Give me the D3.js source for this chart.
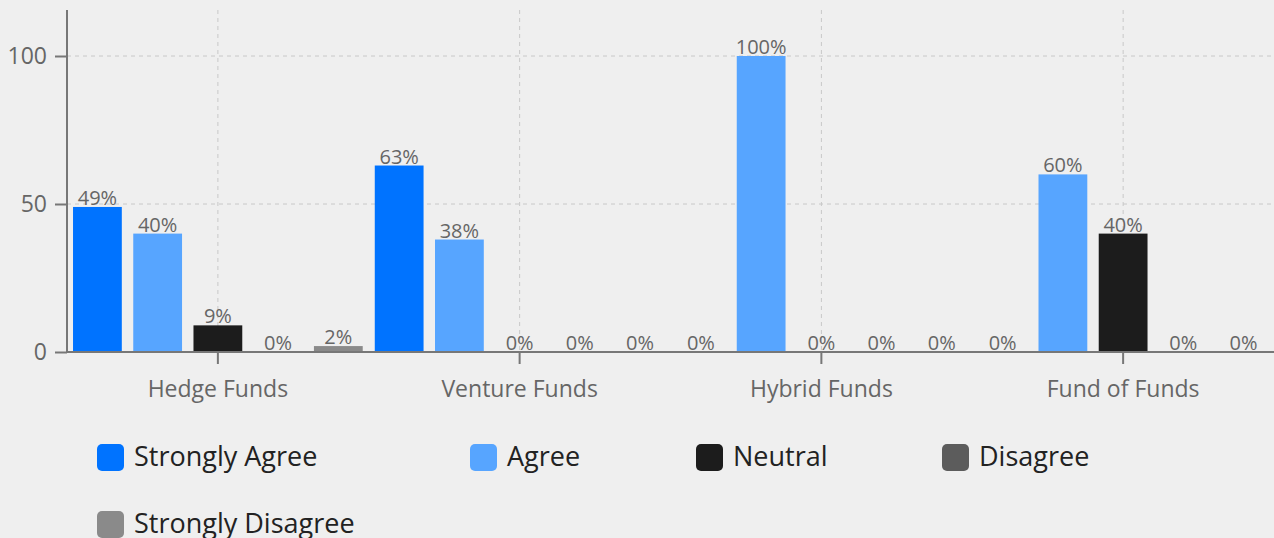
<!DOCTYPE html>
<html>
<head>
<meta charset="utf-8">
<script src="https://cdn.jsdelivr.net/npm/d3@7"></script>
<style>
  html, body { margin: 0; padding: 0; background: #efefef; }
  svg { display: block; font-family: "Open Sans", sans-serif; }
</style>
</head>
<body>
<div id="grafica"></div>
<script>
// datos
var categorias = ["Hedge Funds", "Venture Funds", "Hybrid Funds", "Fund of Funds"];
var series = ["Strongly Agree", "Agree", "Neutral", "Disagree", "Strongly Disagree"];
var stronglyAgree = [49, 63, 0, 0];
var agree = [40, 38, 100, 60];
var neutral = [9, 0, 0, 40];
var disagree = [0, 0, 0, 0];
var stronglyDisagree = [2, 0, 0, 0];
var yTicks = [0, 50, 100];

var valores = [stronglyAgree, agree, neutral, disagree, stronglyDisagree];
var colores = ["#0073ff", "#57a5ff", "#1c1c1c", "#5c5c5c", "#8a8a8a"];

var ancho = 1274, alto = 538;
var margen = { top: 10, right: 0, bottom: 186, left: 67 };
var altoGrafica = alto - margen.top - margen.bottom;

var svg = d3.select("#grafica").append("svg")
    .attr("width", ancho)
    .attr("height", alto);

var x0 = d3.scaleBand()
    .domain(categorias)
    .range([margen.left, ancho - margen.right])
    .padding(0);

var x1 = d3.scaleBand()
    .domain(series)
    .range([0, x0.bandwidth()])
    .paddingInner(0.19)
    .paddingOuter(0.1);

var y = d3.scaleLinear()
    .domain([0, 100])
    .range([margen.top + altoGrafica, margen.top + altoGrafica - 296]);

// rejilla
var rejilla = svg.append("g");
rejilla.selectAll("line.h")
    .data(yTicks.filter(function (d) { return d > 0; }))
    .enter().append("line")
    .attr("x1", margen.left)
    .attr("x2", ancho)
    .attr("y1", function (d) { return y(d); })
    .attr("y2", function (d) { return y(d); })
    .attr("stroke", "#c8c8c8")
    .attr("stroke-dasharray", "4,4");
rejilla.selectAll("line.v")
    .data(categorias)
    .enter().append("line")
    .attr("x1", function (d) { return x0(d) + x0.bandwidth() / 2; })
    .attr("x2", function (d) { return x0(d) + x0.bandwidth() / 2; })
    .attr("y1", margen.top)
    .attr("y2", y(0))
    .attr("stroke", "#c8c8c8")
    .attr("stroke-dasharray", "4,4");

// barras
var filas = [];
categorias.forEach(function (c, i) {
    series.forEach(function (s, j) {
        filas.push({ cat: c, serie: s, valor: valores[j][i], color: colores[j] });
    });
});

svg.append("g").selectAll("rect")
    .data(filas.filter(function (d) { return d.valor > 0; }))
    .enter().append("rect")
    .attr("x", function (d) { return x0(d.cat) + x1(d.serie); })
    .attr("y", function (d) { return y(d.valor); })
    .attr("width", x1.bandwidth())
    .attr("height", function (d) { return y(0) - y(d.valor) + 1; })
    .attr("fill", function (d) { return d.color; });

svg.append("g").selectAll("text")
    .data(filas)
    .enter().append("text")
    .attr("x", function (d) { return x0(d.cat) + x1(d.serie) + x1.bandwidth() / 2; })
    .attr("y", function (d) { return y(d.valor) - 2; })
    .attr("text-anchor", "middle")
    .attr("font-size", 20)
    .attr("fill", "#666")
    .text(function (d) { return d.valor + "%"; });

// ejes
var ejeX = svg.append("g")
    .attr("transform", "translate(0," + y(0) + ")")
    .call(d3.axisBottom(x0).tickSize(12).tickPadding(17));
ejeX.select(".domain").attr("stroke", "#777").attr("stroke-width", 2)
    .attr("d", "M" + margen.left + ",0H" + ancho);
ejeX.selectAll(".tick line").attr("stroke", "#777").attr("stroke-width", 2);
ejeX.selectAll(".tick text").attr("font-size", 23).attr("fill", "#666")
    .attr("font-family", "Open Sans, sans-serif");

var ejeY = svg.append("g")
    .attr("transform", "translate(" + margen.left + ",0)")
    .call(d3.axisLeft(y).tickValues(yTicks).tickSize(12).tickPadding(8));
ejeY.select(".domain").attr("stroke", "#777").attr("stroke-width", 2)
    .attr("d", "M0," + margen.top + "V" + y(0));
ejeY.selectAll(".tick line").attr("stroke", "#777").attr("stroke-width", 2);
ejeY.selectAll(".tick text").attr("font-size", 23).attr("fill", "#666")
    .attr("font-family", "Open Sans, sans-serif");

// leyenda
var posLeyenda = [[97, 457], [470, 457], [696, 457], [942, 457], [97, 524]];
var leyenda = svg.append("g").selectAll("g")
    .data(series)
    .enter().append("g")
    .attr("transform", function (d, i) {
        return "translate(" + posLeyenda[i][0] + "," + posLeyenda[i][1] + ")";
    });
leyenda.append("rect")
    .attr("x", 0)
    .attr("y", -13)
    .attr("width", 27)
    .attr("height", 27)
    .attr("rx", 5)
    .attr("fill", function (d, i) { return colores[i]; });
leyenda.append("text")
    .attr("x", 37)
    .attr("dy", "0.35em")
    .attr("font-size", 27)
    .attr("fill", "#222")
    .text(function (d) { return d; });
</script>
</body>
</html>
